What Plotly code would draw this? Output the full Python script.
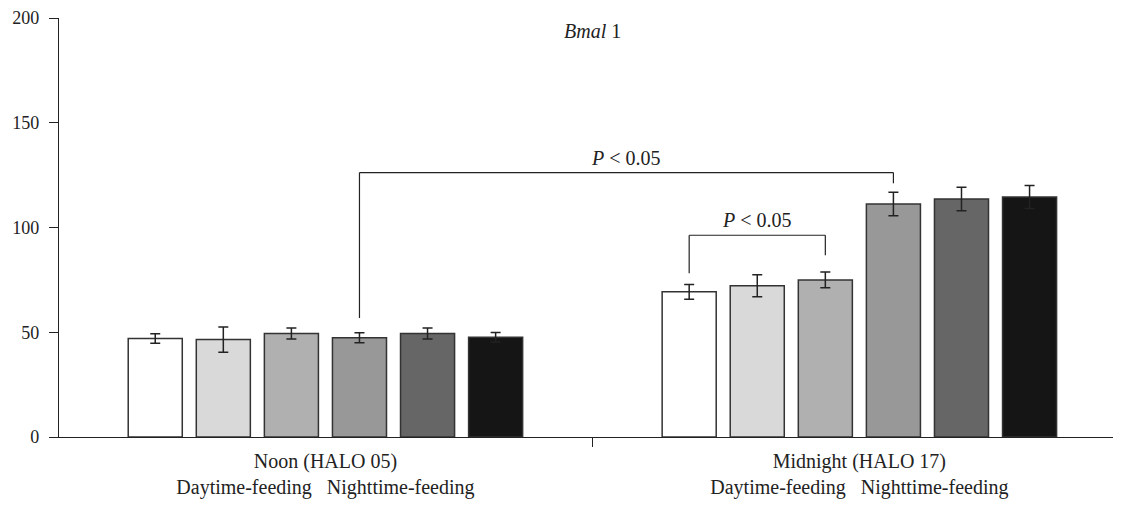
import plotly.graph_objects as go

categories = ["Noon (HALO 05)<br>Daytime-feeding   Nighttime-feeding",
              "Midnight (HALO 17)<br>Daytime-feeding   Nighttime-feeding"]
series_names = ["S1", "S2", "S3", "S4", "S5", "S6"]
series_colors = ["#ffffff", "#d9d9d9", "#b0b0b0", "#989898", "#666666", "#151515"]
# values[series] = [noon, midnight]
values = [[47.0, 69.3], [46.5, 72.2], [49.4, 75.0], [47.4, 111.2], [49.4, 113.6], [47.6, 114.6]]
errors = [[2.3, 3.5], [6.0, 5.2], [2.6, 3.8], [2.4, 5.6], [2.6, 5.6], [2.3, 5.5]]
y_ticks = [0, 50, 100, 150, 200]
title_text = "<i>Bmal</i> 1"
# brackets: (group_left, bar_left, y_left_bottom, group_right, bar_right, y_right_bottom, y_top, label)
brackets = [
    (0, 3, 56.8, 1, 3, 121.1, 126.2, "<i>P</i> < 0.05"),
    (1, 0, 78.2, 1, 2, 86.8, 96.3, "<i>P</i> < 0.05"),
]

FONT = "Liberation Serif"
BARGAP = 0.235
BARGROUPGAP = 0.206
N = len(series_names)

fig = go.Figure()
for i in range(N):
    fig.add_trace(go.Bar(
        x=categories, y=values[i], name=series_names[i],
        marker=dict(color=series_colors[i], line=dict(color="#333333", width=1.5)),
        error_y=dict(type="data", array=errors[i], visible=True,
                     color="#222222", thickness=1.5, width=5),
        showlegend=False,
    ))

def bar_x(group, bar):
    return group + (bar - (N - 1) / 2) * (1 - BARGAP) / N

shapes = []
annotations = []
for gl, bl, yl, gr, br, yr, yt, lab in brackets:
    xl = bar_x(gl, bl)
    xr = bar_x(gr, br)
    line = dict(color="#222222", width=1.2)
    shapes.append(dict(type="line", xref="x", yref="y", x0=xl, x1=xl, y0=yl, y1=yt, line=line))
    shapes.append(dict(type="line", xref="x", yref="y", x0=xl, x1=xr, y0=yt, y1=yt, line=line))
    shapes.append(dict(type="line", xref="x", yref="y", x0=xr, x1=xr, y0=yr, y1=yt, line=line))
    annotations.append(dict(x=(xl + xr) / 2, y=yt, xref="x", yref="y", text=lab,
                            showarrow=False, yanchor="bottom", yshift=2,
                            font=dict(family=FONT, size=20, color="#222222")))

annotations.append(dict(x=0.5, y=194, xref="x", yref="y", text=title_text,
                        showarrow=False, font=dict(family=FONT, size=20, color="#222222")))

# page body has an 8px margin, so the figure is 8px smaller and margins reduced by 8
fig.update_layout(
    width=1113, height=502,
    margin=dict(l=51, r=0, t=10, b=73),
    paper_bgcolor="white", plot_bgcolor="white",
    barmode="group", bargap=BARGAP, bargroupgap=BARGROUPGAP,
    font=dict(family=FONT, size=18, color="#222222"),
    shapes=shapes, annotations=annotations,
    xaxis=dict(
        type="category", range=[-0.499, 1.49], tickson="boundaries",
        showline=True, linecolor="#222222", linewidth=1.2,
        ticks="outside", ticklen=9, tickcolor="#222222", tickwidth=1.2,
        showgrid=False, zeroline=False, automargin=False, ticklabelstandoff=6,
        tickfont=dict(family=FONT, size=20, color="#222222"),
    ),
    yaxis=dict(
        range=[0, 200], tickvals=y_ticks,
        showline=True, linecolor="#222222", linewidth=1.2,
        ticks="outside", ticklen=9, tickcolor="#222222", tickwidth=1.2,
        showgrid=False, zeroline=False, ticklabelstandoff=6, automargin=False,
        tickfont=dict(family=FONT, size=18, color="#222222"),
    ),
)

fig.write_html("out.html")
